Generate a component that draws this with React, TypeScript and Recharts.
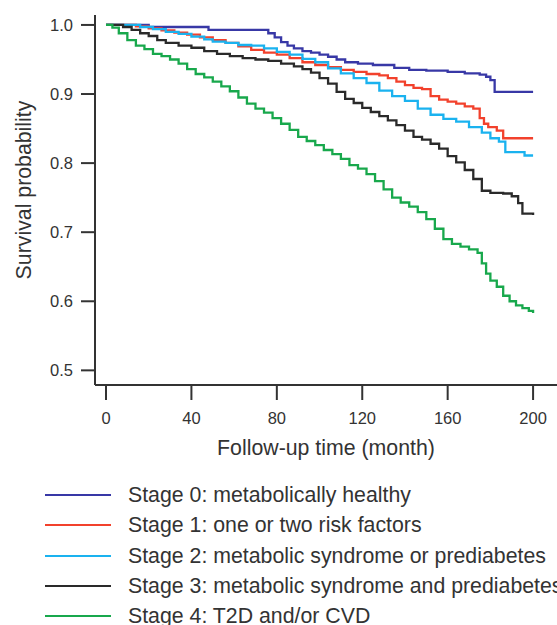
import React from 'react';
import { LineChart, Line, XAxis, YAxis } from 'recharts';

// Kaplan-Meier curves: [month, survival]
const stage0: [number, number][] = [
    [0, 1.0], [18, 1.0], [20, 0.997], [46, 0.997], [48, 0.993], [74, 0.993], [76, 0.988], [79, 0.982],
    [82, 0.975], [85, 0.97], [88, 0.966], [92, 0.962], [96, 0.96], [100, 0.957], [104, 0.954], [108, 0.95],
    [112, 0.946], [118, 0.944], [125, 0.942], [135, 0.938], [142, 0.935], [150, 0.934], [160, 0.932],
    [168, 0.93], [175, 0.928], [178, 0.925], [180, 0.92], [182, 0.903], [200, 0.903],
];
const stage1: [number, number][] = [
    [0, 1.0], [10, 1.0], [14, 0.998], [20, 0.995], [26, 0.992], [32, 0.989], [38, 0.986], [44, 0.982],
    [50, 0.978], [56, 0.974], [62, 0.969], [68, 0.964], [74, 0.96], [80, 0.957], [86, 0.952], [92, 0.946],
    [98, 0.942], [104, 0.939], [110, 0.935], [116, 0.932], [122, 0.929], [128, 0.927], [132, 0.923],
    [136, 0.918], [140, 0.913], [144, 0.909], [148, 0.907], [152, 0.897], [156, 0.892], [160, 0.889],
    [164, 0.886], [168, 0.882], [172, 0.879], [175, 0.865], [177, 0.857], [179, 0.852], [183, 0.847],
    [186, 0.836], [200, 0.836],
];
const stage2: [number, number][] = [
    [0, 1.0], [12, 1.0], [16, 0.997], [22, 0.994], [28, 0.99], [34, 0.987], [40, 0.983], [46, 0.979],
    [50, 0.976], [56, 0.974], [62, 0.971], [68, 0.97], [74, 0.966], [80, 0.961], [86, 0.957], [92, 0.951],
    [98, 0.946], [104, 0.937], [110, 0.93], [116, 0.923], [122, 0.916], [128, 0.905], [134, 0.897],
    [140, 0.89], [146, 0.879], [152, 0.87], [158, 0.864], [164, 0.86], [170, 0.852], [176, 0.844],
    [180, 0.836], [184, 0.831], [187, 0.816], [195, 0.816], [196, 0.811], [200, 0.811],
];
const stage3: [number, number][] = [
    [0, 1.0], [6, 1.0], [8, 0.997], [12, 0.993], [16, 0.988], [20, 0.984], [24, 0.978], [28, 0.974],
    [34, 0.97], [40, 0.967], [46, 0.962], [52, 0.958], [58, 0.955], [64, 0.952], [70, 0.95], [76, 0.948],
    [82, 0.944], [88, 0.94], [92, 0.936], [96, 0.931], [100, 0.923], [104, 0.915], [108, 0.903],
    [112, 0.893], [116, 0.887], [120, 0.88], [124, 0.874], [128, 0.868], [132, 0.862], [136, 0.855],
    [140, 0.847], [144, 0.838], [148, 0.834], [152, 0.828], [156, 0.821], [160, 0.81], [164, 0.801],
    [168, 0.79], [172, 0.777], [176, 0.76], [180, 0.757], [186, 0.756], [190, 0.752], [193, 0.742],
    [195, 0.727], [200, 0.725],
];
const stage4: [number, number][] = [
    [0, 1.0], [3, 0.996], [6, 0.988], [10, 0.978], [14, 0.97], [18, 0.965], [22, 0.958], [26, 0.955],
    [30, 0.95], [34, 0.944], [38, 0.936], [42, 0.929], [46, 0.924], [50, 0.918], [54, 0.911], [58, 0.904],
    [62, 0.895], [66, 0.886], [70, 0.879], [74, 0.873], [78, 0.865], [82, 0.857], [86, 0.848], [90, 0.838],
    [94, 0.832], [98, 0.826], [102, 0.819], [106, 0.813], [110, 0.806], [114, 0.797], [118, 0.792],
    [122, 0.784], [126, 0.774], [130, 0.762], [134, 0.75], [138, 0.743], [142, 0.737], [146, 0.729],
    [150, 0.719], [154, 0.705], [158, 0.69], [162, 0.683], [166, 0.679], [170, 0.675], [174, 0.67],
    [176, 0.655], [178, 0.64], [180, 0.63], [183, 0.621], [186, 0.608], [189, 0.6], [192, 0.594],
    [195, 0.59], [198, 0.586], [200, 0.583],
];

const seriesNames = [
    'Stage 0: metabolically healthy',
    'Stage 1: one or two risk factors',
    'Stage 2: metabolic syndrome or prediabetes',
    'Stage 3: metabolic syndrome and prediabetes',
    'Stage 4: T2D and/or CVD',
];
const seriesColors = ['#3838a6', '#f2412c', '#1ab2ef', '#2a2a2a', '#18a84c'];
const seriesData = [stage0, stage1, stage2, stage3, stage4];

const xTicks = [0, 40, 80, 120, 160, 200];
const yTicks = [0.5, 0.6, 0.7, 0.8, 0.9, 1.0];

const FONT = '"Liberation Sans", Arial, sans-serif';
const INK = '#333';
const TITLE_SIZE = 21.3;

export default function App() {
    const series = seriesData.map((pts, i) => ({
        name: seriesNames[i],
        color: seriesColors[i],
        data: pts.map(([t, v]) => ({ t, v })),
    }));

    return (
        <div style={{ position: 'absolute', left: 0, top: 0, width: 557, height: 625, background: '#fff', overflow: 'hidden', fontFamily: FONT }}>
            <LineChart width={557} height={470} margin={{ top: 15, right: 0, left: 0, bottom: 0 }}>
                <XAxis
                    type="number"
                    dataKey="t"
                    domain={[-5.15, 211.2]}
                    ticks={xTicks}
                    allowDataOverflow
                    height={85}
                    tickSize={15}
                    tickMargin={12}
                    axisLine={{ stroke: INK, strokeWidth: 2 }}
                    tickLine={{ stroke: INK, strokeWidth: 2 }}
                    tick={{ fill: INK, fontSize: 16.5, fontFamily: FONT }}
                    label={{
                        content: (p: any) => (
                            <text x={p.viewBox.x + p.viewBox.width / 2} y={p.viewBox.y + 63} textAnchor="middle" dominantBaseline="central" fill={INK} fontSize={TITLE_SIZE} fontFamily={FONT}>
                                Follow-up time (month)
                            </text>
                        ),
                    }}
                />
                <YAxis
                    type="number"
                    domain={[0.4788, 1.0144]}
                    ticks={yTicks}
                    allowDataOverflow
                    width={95}
                    tickSize={14}
                    tickMargin={8}
                    tickFormatter={(v: number) => v.toFixed(1)}
                    axisLine={{ stroke: INK, strokeWidth: 2 }}
                    tickLine={{ stroke: INK, strokeWidth: 2 }}
                    tick={{ fill: INK, fontSize: 16.5, fontFamily: FONT }}
                    label={{
                        content: (p: any) => {
                            const cx = p.viewBox.x + 24;
                            const cy = p.viewBox.y + p.viewBox.height / 2 - 10;
                            return (
                                <text x={cx} y={cy} transform={`rotate(-90 ${cx} ${cy})`} textAnchor="middle" dominantBaseline="central" fill={INK} fontSize={TITLE_SIZE} fontFamily={FONT}>
                                    Survival probability
                                </text>
                            );
                        },
                    }}
                />
                {series.map((s) => (
                    <Line
                        key={s.name}
                        data={s.data}
                        dataKey="v"
                        name={s.name}
                        type="stepAfter"
                        stroke={s.color}
                        strokeWidth={2.3}
                        dot={false}
                        isAnimationActive={false}
                    />
                ))}
            </LineChart>

            <div style={{ position: 'absolute', left: 0, top: 480, width: 557 }}>
                {series.map((s) => (
                    <div key={s.name} style={{ height: 30.3, display: 'flex', alignItems: 'center', whiteSpace: 'nowrap' }}>
                        <div style={{ marginLeft: 45, width: 66, height: 2, background: s.color, flexShrink: 0 }} />
                        <span style={{ marginLeft: 17, fontSize: TITLE_SIZE, color: INK, lineHeight: '30px' }}>{s.name}</span>
                    </div>
                ))}
            </div>
        </div>
    );
}
